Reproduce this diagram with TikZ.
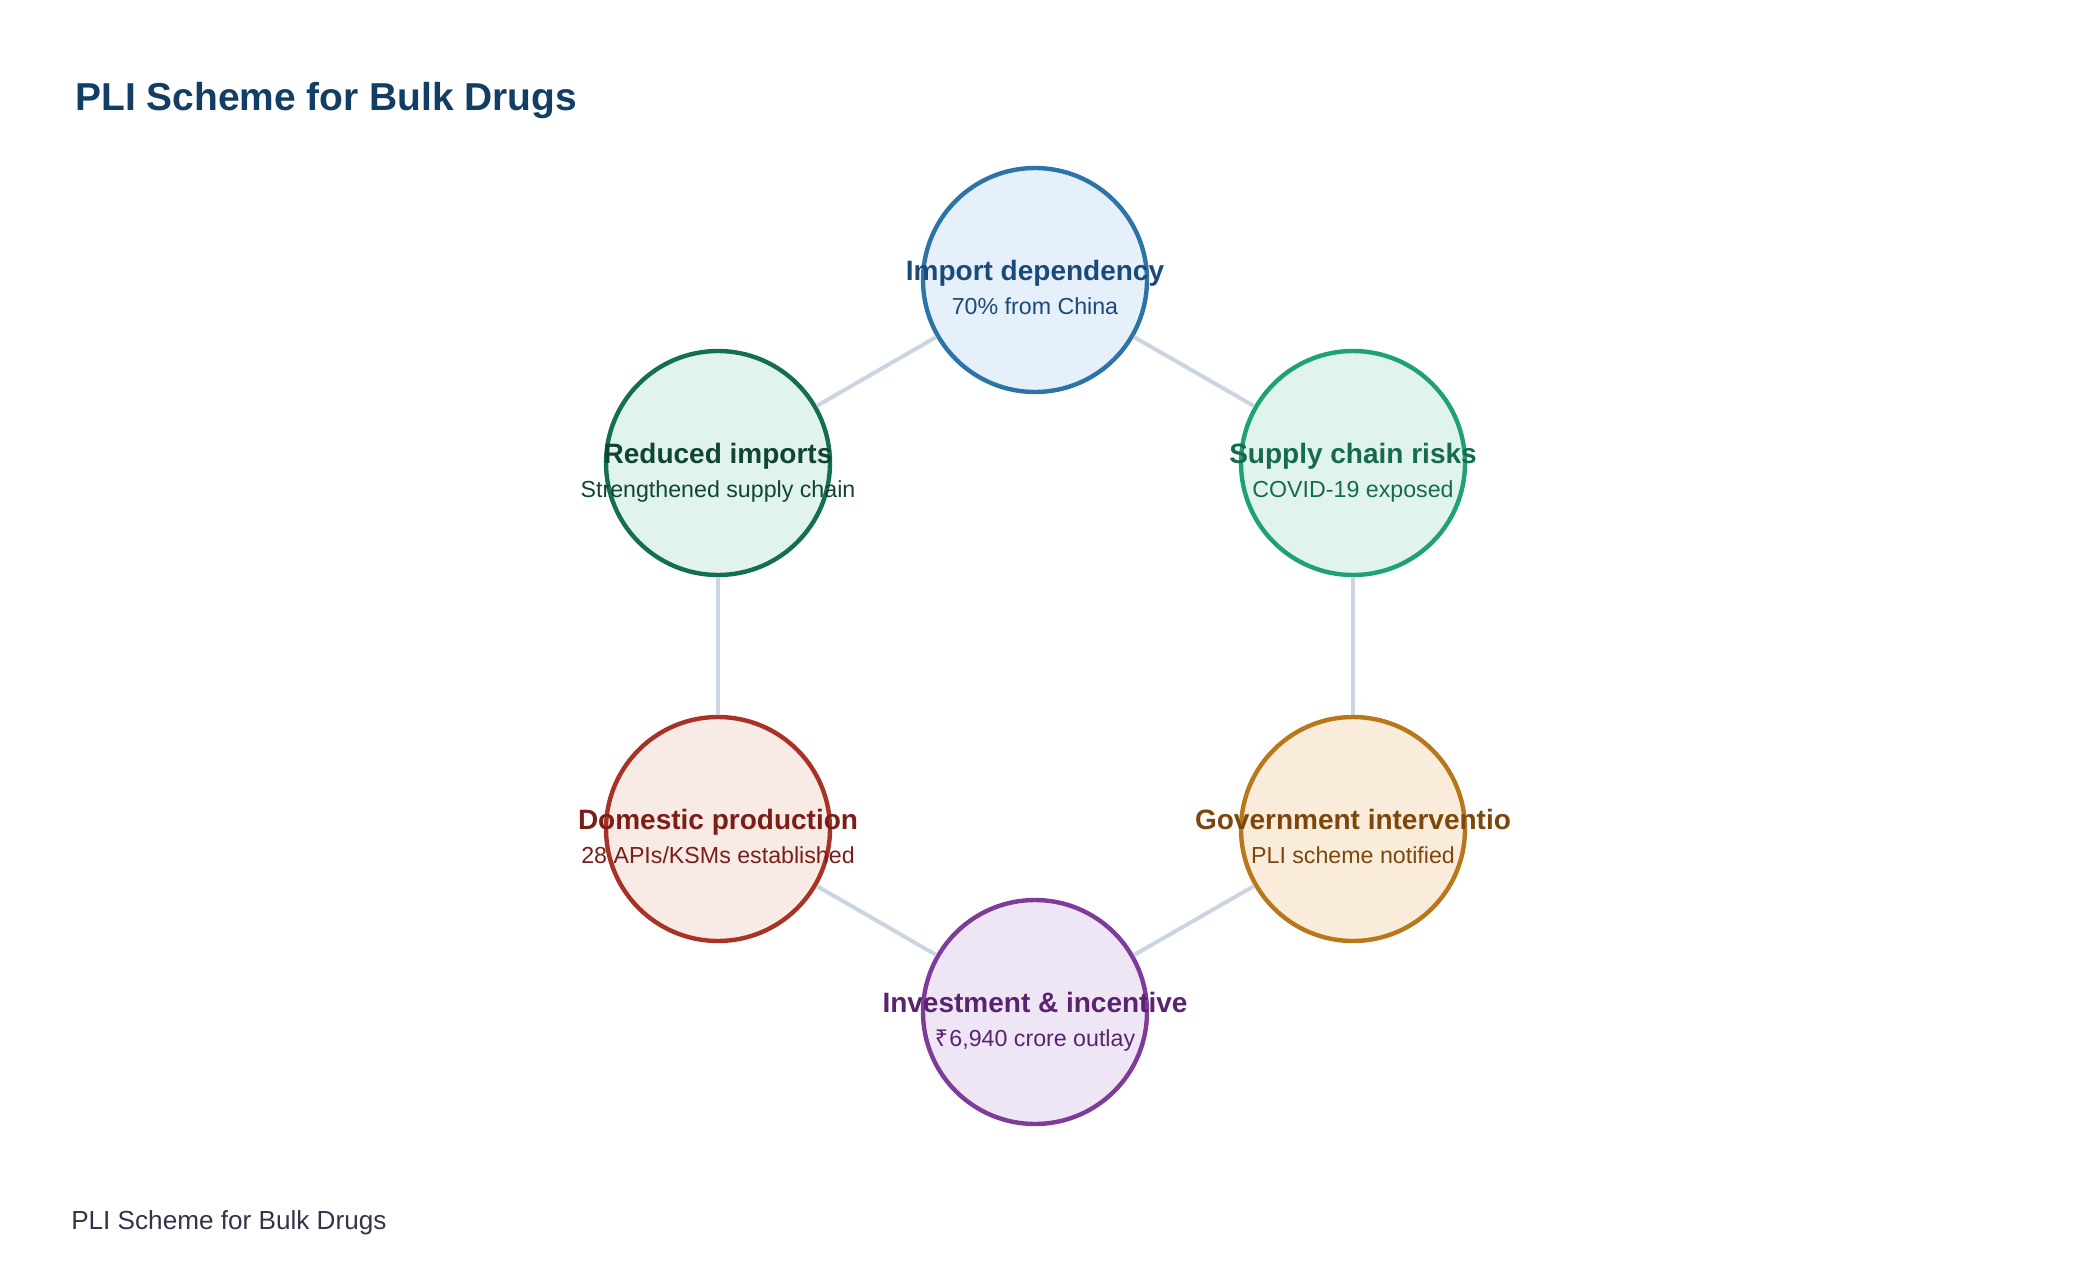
\documentclass[tikz,border=0pt]{standalone}
\usepackage{fontspec}
\setmainfont{Liberation Sans}
\newfontfamily\rupeefont{Noto Sans}

\definecolor{titleblue}{HTML}{123E66}
\definecolor{footgray}{HTML}{33334A}
\definecolor{linkgray}{HTML}{CBD5E1}
\definecolor{impline}{HTML}{2C74A8}
\definecolor{impfill}{HTML}{E6F0FA}
\definecolor{imptext}{HTML}{1B4A78}
\definecolor{supline}{HTML}{20A075}
\definecolor{supfill}{HTML}{E1F4EC}
\definecolor{suptext}{HTML}{156B4D}
\definecolor{govline}{HTML}{B8771A}
\definecolor{govfill}{HTML}{FAECDA}
\definecolor{govtext}{HTML}{7D470C}
\definecolor{invline}{HTML}{7D3C98}
\definecolor{invfill}{HTML}{EFE6F5}
\definecolor{invtext}{HTML}{5A2370}
\definecolor{domline}{HTML}{A93226}
\definecolor{domfill}{HTML}{F8EBE6}
\definecolor{domtext}{HTML}{7B1E18}
\definecolor{redline}{HTML}{146E52}
\definecolor{redfill}{HTML}{E1F4EC}
\definecolor{redtext}{HTML}{0F4532}

\tikzset{
  hub/.style={draw,circle,line width=3.3pt,minimum size=168pt,inner sep=0pt},
  head/.style={anchor=base,font=\fontsize{21}{22}\selectfont\bfseries},
  sub/.style={anchor=base,font=\fontsize{17.4}{18}\selectfont},
  link/.style={draw=linkgray,line width=3pt}
}

\begin{document}
\begin{tikzpicture}[x=0.75pt,y=-0.75pt]
  \useasboundingbox (0,0) rectangle (2080,1284);
  \node[anchor=base west,inner sep=0pt,text=titleblue,font=\fontsize{29.2}{30}\selectfont\bfseries] (title) at (75,111) {PLI Scheme for Bulk Drugs};
  \node[anchor=base west,inner sep=0pt,text=footgray,font=\fontsize{19.6}{21}\selectfont] (foot) at (71,1229) {PLI Scheme for Bulk Drugs};

  \node[hub,draw=impline,fill=impfill] (imp) at (1035,280) {};
  \node[hub,draw=supline,fill=supfill] (sup) at (1353,463) {};
  \node[hub,draw=govline,fill=govfill] (gov) at (1353,829) {};
  \node[hub,draw=invline,fill=invfill] (inv) at (1035,1012) {};
  \node[hub,draw=domline,fill=domfill] (dom) at (718,829) {};
  \node[hub,draw=redline,fill=redfill] (red) at (718,463) {};

  \draw[link] (imp) -- (sup);
  \draw[link] (sup) -- (gov);
  \draw[link] (gov) -- (inv);
  \draw[link] (inv) -- (dom);
  \draw[link] (dom) -- (red);
  \draw[link] (red) -- (imp);

  \node[head,text=imptext] (imphead) at (1035,280) {Import dependency};
  \node[sub,text=imptext] (impsub) at (1035,314) {70\% from China};
  \node[head,text=suptext] (suphead) at (1353,463) {Supply chain risks};
  \node[sub,text=suptext] (supsub) at (1353,497) {COVID-19 exposed};
  \node[head,text=govtext] (govhead) at (1353,829) {Government interventio};
  \node[sub,text=govtext] (govsub) at (1353,863) {PLI scheme notified};
  \node[head,text=invtext] (invhead) at (1035,1012) {Investment \& incentive};
  \node[sub,text=invtext] (invsub) at (1035,1046) {{\rupeefont ₹}\kern1pt 6,940 crore outlay};
  \node[head,text=domtext] (domhead) at (718,829) {Domestic production};
  \node[sub,text=domtext] (domsub) at (718,863) {28 APIs/KSMs established};
  \node[head,text=redtext] (redhead) at (718,463) {Reduced imports};
  \node[sub,text=redtext] (redsub) at (718,497) {Strengthened supply chain};
\end{tikzpicture}
\end{document}
